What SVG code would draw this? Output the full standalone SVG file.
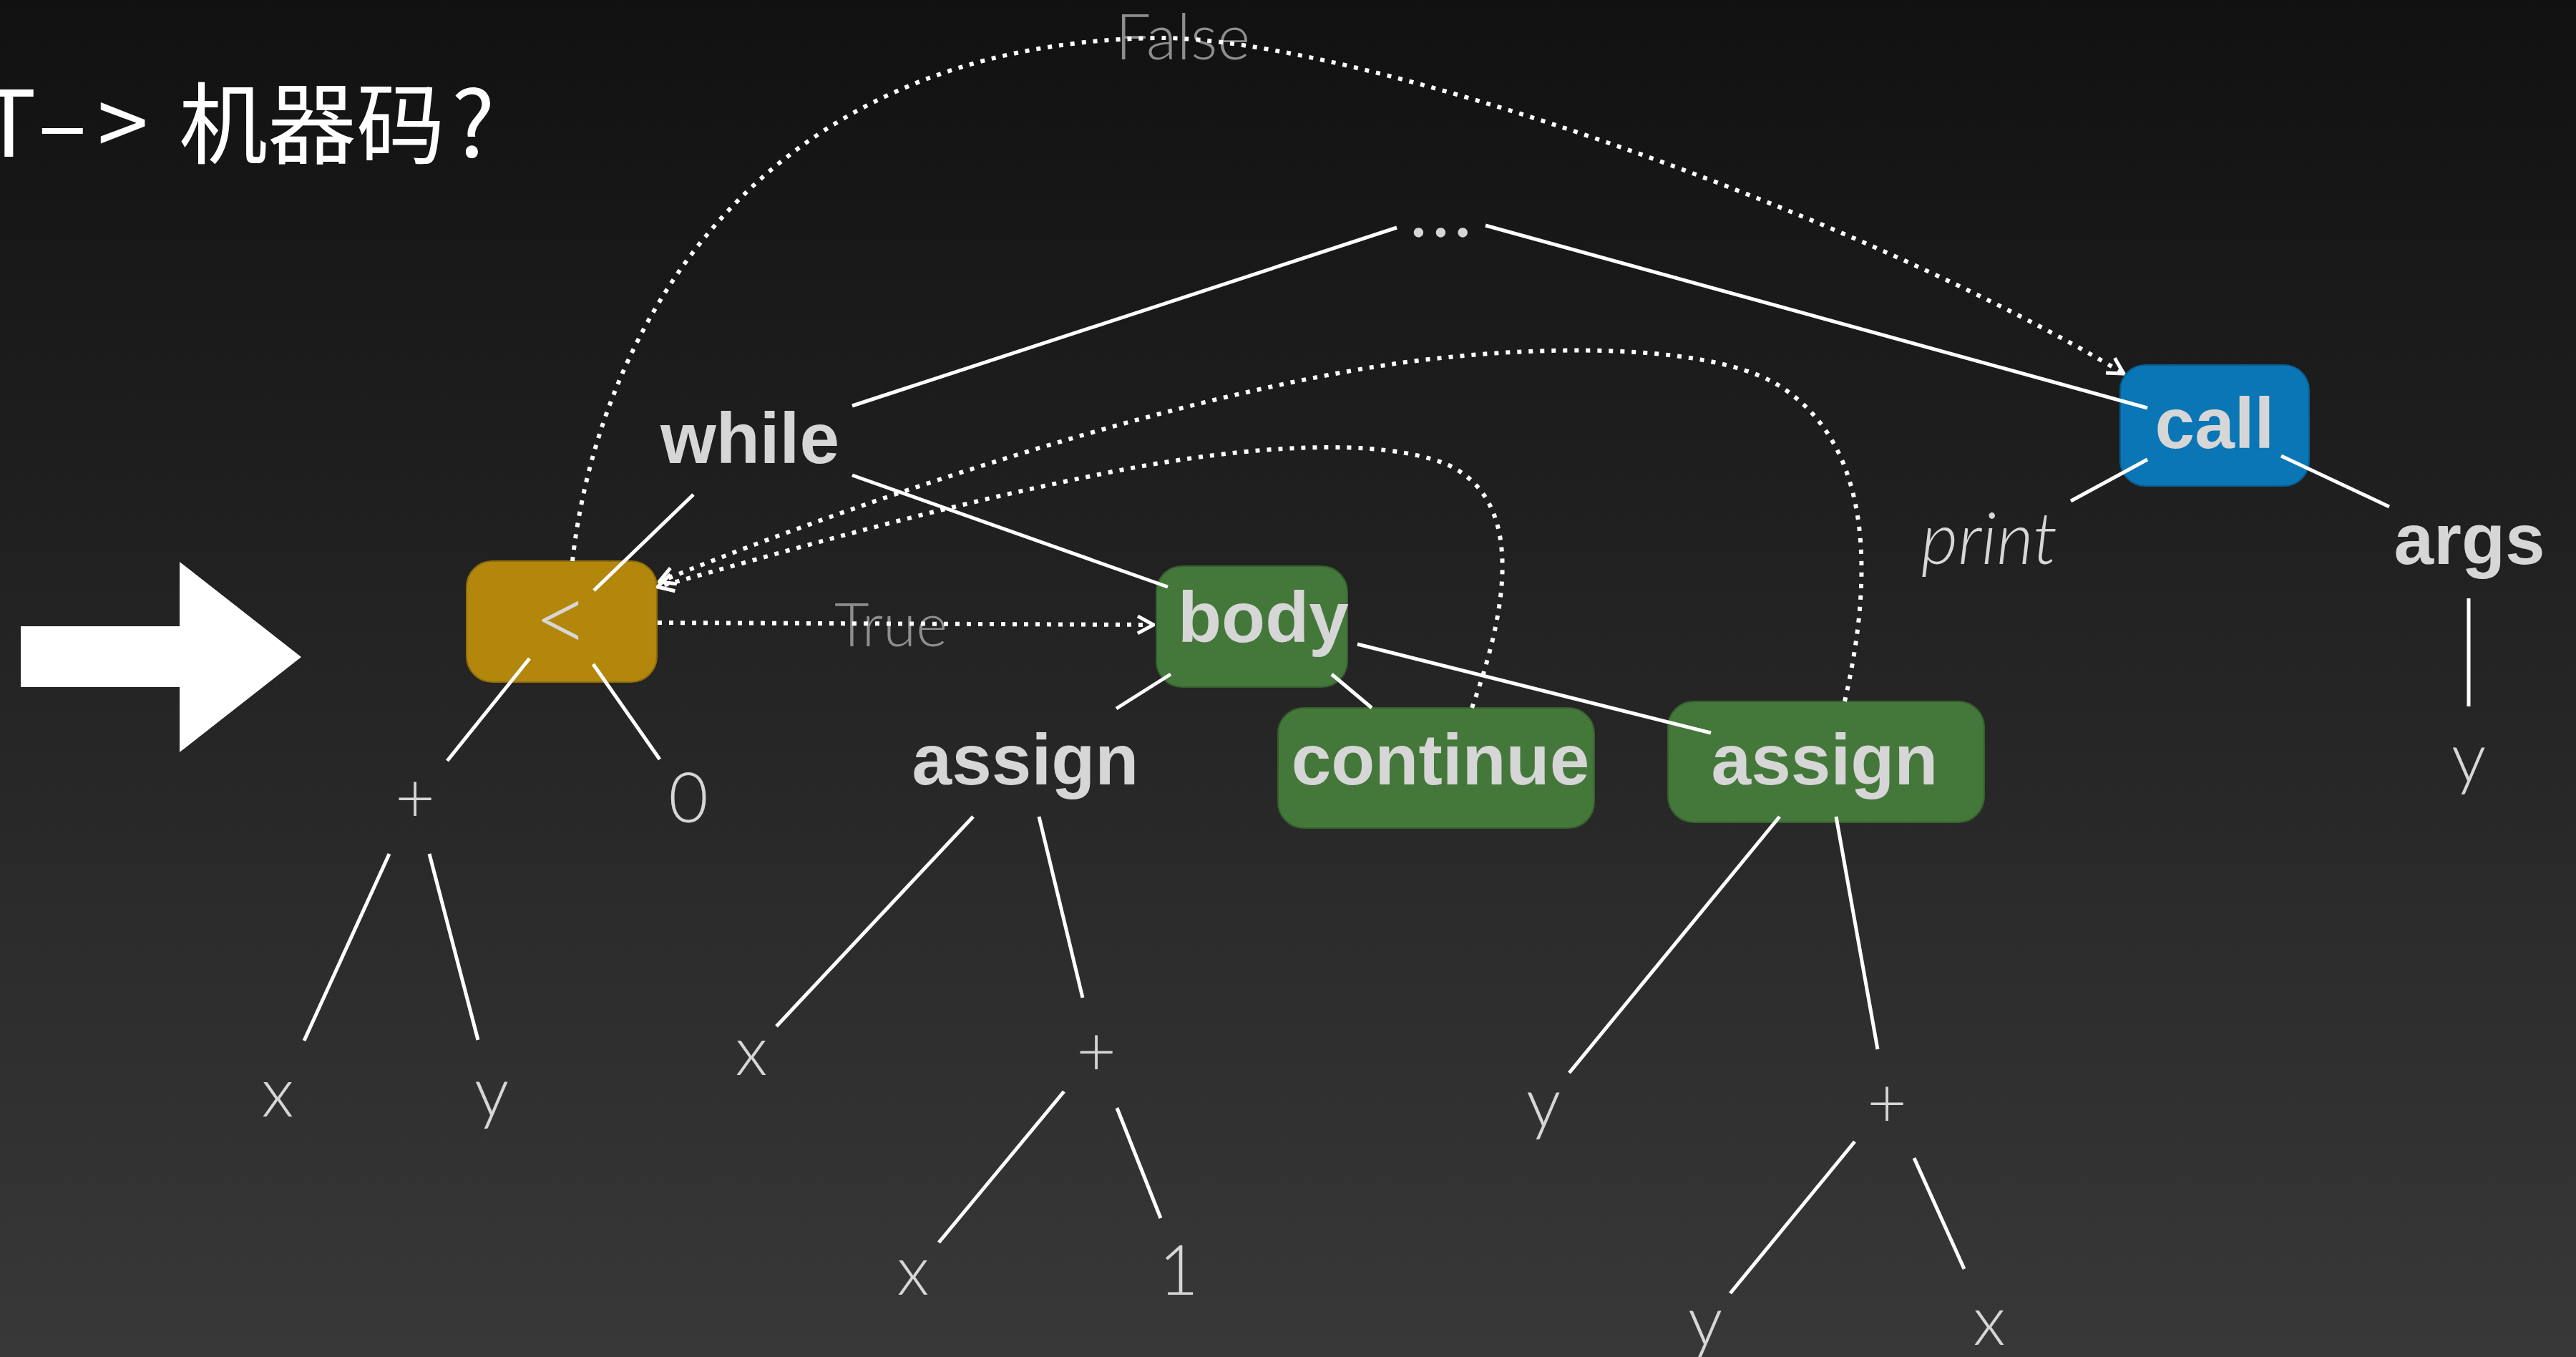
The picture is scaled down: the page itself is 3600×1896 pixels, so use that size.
<svg xmlns="http://www.w3.org/2000/svg" width="3600" height="1896" viewBox="0 0 3600 1896">
<defs>
<linearGradient id="bg" x1="0" y1="0" x2="0" y2="1" gradientUnits="objectBoundingBox">
<stop offset="0" stop-color="#111111"/>
<stop offset="1" stop-color="#383838"/>
</linearGradient>
<marker id="arr" viewBox="0 0 30 30" refX="28" refY="15" markerWidth="30" markerHeight="30" orient="auto" markerUnits="userSpaceOnUse">
<path d="M6,3 L28,15 L6,27" fill="none" stroke="#ffffff" stroke-width="5"/>
</marker>
</defs>
<style>
.bold{font-family:"Liberation Sans",Arial,sans-serif;font-weight:700;font-size:100px;fill:#d6d6d6}
.light{font-family:Lato,"Open Sans","Liberation Sans",sans-serif;font-weight:300;font-size:96px;fill:#d6d6d6}
.elabel{font-family:Lato,"Open Sans","Liberation Sans",sans-serif;font-weight:300;fill:#8e8e8e}
.mid{text-anchor:middle}
.edge{stroke:#ffffff;stroke-width:5;fill:none}
.dot{stroke:#ffffff;stroke-width:6;fill:none;stroke-dasharray:6 10}
.yel{fill:#b3870c;stroke:#8f6c0a;stroke-width:2}
.grn{fill:#44783a;stroke:#365f2e;stroke-width:2}
.blu{fill:#0a76b5;stroke:#085d8f;stroke-width:2}
</style>
<rect x="0" y="0" width="3600" height="1896" fill="url(#bg)"/>
<text x="-26" y="219" font-family="'Noto Sans CJK SC','Noto Sans',sans-serif" font-size="128" fill="#ffffff"><tspan x="-26">T</tspan><tspan x="53">–</tspan><tspan x="136">&gt; </tspan><tspan x="250" font-size="124">机器码</tspan><tspan x="631">?</tspan></text>
<g id="bigarrow"><polygon points="29,875 251,875 251,785 421,918 251,1051 251,960 29,960" fill="#ffffff"/></g>
<g id="nodes">
<g id="n-lt"><rect class="yel" x="652" y="784" width="266" height="169" rx="36"/><text class="light mid" x="785" y="912" style="font-size:135px">&lt;</text></g>
<g id="n-while"><text class="bold mid" x="1048" y="647">while</text></g>
<g id="n-dots"><text x="1972" y="331" font-family="Lato,'Liberation Sans',sans-serif" font-size="88" font-weight="700" fill="#d6d6d6" letter-spacing="10">...</text></g>
<g id="n-call"><rect class="blu" x="2963" y="510" width="264" height="169" rx="35"/><text class="bold mid" x="3095" y="626">call</text></g>
<g id="n-print"><text class="light mid" x="2780" y="788" style="font-style:italic;font-size:100px">print</text></g>
<g id="n-args"><text class="bold mid" x="3451" y="788">args</text></g>
<g id="n-args-y"><text class="light mid" x="3450" y="1093">y</text></g>
<g id="n-body"><rect class="grn" x="1616" y="791" width="267" height="169" rx="36"/><text class="bold" x="1646" y="897">body</text></g>
<g id="n-plus1"><text class="light mid" x="580" y="1149">+</text></g>
<g id="n-zero"><text class="light mid" x="962" y="1149">0</text></g>
<g id="n-x1"><text class="light mid" x="388" y="1560">x</text></g>
<g id="n-y1"><text class="light mid" x="687" y="1560">y</text></g>
<g id="n-assign1"><text class="bold mid" x="1433" y="1096">assign</text></g>
<g id="n-x2"><text class="light mid" x="1050" y="1502">x</text></g>
<g id="n-plus2"><text class="light mid" x="1532" y="1503">+</text></g>
<g id="n-x3"><text class="light mid" x="1276" y="1809">x</text></g>
<g id="n-one"><text class="light mid" x="1647" y="1809">1</text></g>
<g id="n-continue"><rect class="grn" x="1786" y="989" width="442" height="168" rx="36"/><text class="bold mid" x="2013" y="1096">continue</text></g>
<g id="n-assign2"><rect class="grn" x="2331" y="980" width="442" height="169" rx="36"/><text class="bold mid" x="2550" y="1096">assign</text></g>
<g id="n-y2"><text class="light mid" x="2157" y="1575">y</text></g>
<g id="n-plus3"><text class="light mid" x="2637" y="1575">+</text></g>
<g id="n-y3"><text class="light mid" x="2383" y="1880">y</text></g>
<g id="n-x4"><text class="light mid" x="2780" y="1879">x</text></g>
</g>
<g id="connectors">
<text class="elabel mid" x="1653" y="83" font-size="88">False</text>
<text class="elabel mid" x="1245" y="903" font-size="84">True</text>
<line class="edge" x1="1191" y1="567" x2="1952" y2="318"/>
<line class="edge" x1="2076" y1="315" x2="3001" y2="570"/>
<line class="edge" x1="969" y1="691" x2="830" y2="825"/>
<line class="edge" x1="1191" y1="664" x2="1632" y2="820"/>
<line class="edge" x1="740" y1="920" x2="625" y2="1063"/>
<line class="edge" x1="829" y1="928" x2="922" y2="1061"/>
<line class="edge" x1="544" y1="1193" x2="425" y2="1454"/>
<line class="edge" x1="600" y1="1193" x2="668" y2="1453"/>
<line class="edge" x1="1636" y1="942" x2="1560" y2="990"/>
<line class="edge" x1="1861" y1="942" x2="1917" y2="989"/>
<line class="edge" x1="1897" y1="900" x2="2391" y2="1024"/>
<line class="edge" x1="1360" y1="1141" x2="1085" y2="1434"/>
<line class="edge" x1="1452" y1="1141" x2="1513" y2="1394"/>
<line class="edge" x1="1487" y1="1525" x2="1312" y2="1736"/>
<line class="edge" x1="1561" y1="1548" x2="1622" y2="1702"/>
<line class="edge" x1="2487" y1="1141" x2="2193" y2="1499"/>
<line class="edge" x1="2566" y1="1141" x2="2624" y2="1466"/>
<line class="edge" x1="2592" y1="1595" x2="2418" y2="1807"/>
<line class="edge" x1="2675" y1="1618" x2="2745" y2="1773"/>
<line class="edge" x1="3001" y1="642" x2="2894" y2="700"/>
<line class="edge" x1="3188" y1="637" x2="3339" y2="708"/>
<line class="edge" x1="3450" y1="836" x2="3450" y2="987"/>
<path class="dot" d="M800,784 C835,470 1050,60 1620,53 C1900,53 2600,300 2968,522" marker-end="url(#arr)"/>
<path class="dot" d="M919,870 L1612,873" marker-end="url(#arr)"/>
<path class="dot" d="M2578,980 C2615,820 2625,620 2480,535 C2380,480 2150,480 1950,508 C1600,560 1150,720 921,813" marker-end="url(#arr)"/>
<path class="dot" d="M2057,989 C2100,870 2140,700 2020,648 C1930,612 1750,620 1550,660 C1300,710 1100,770 919,820" marker-end="url(#arr)"/>
</g>
</svg>
